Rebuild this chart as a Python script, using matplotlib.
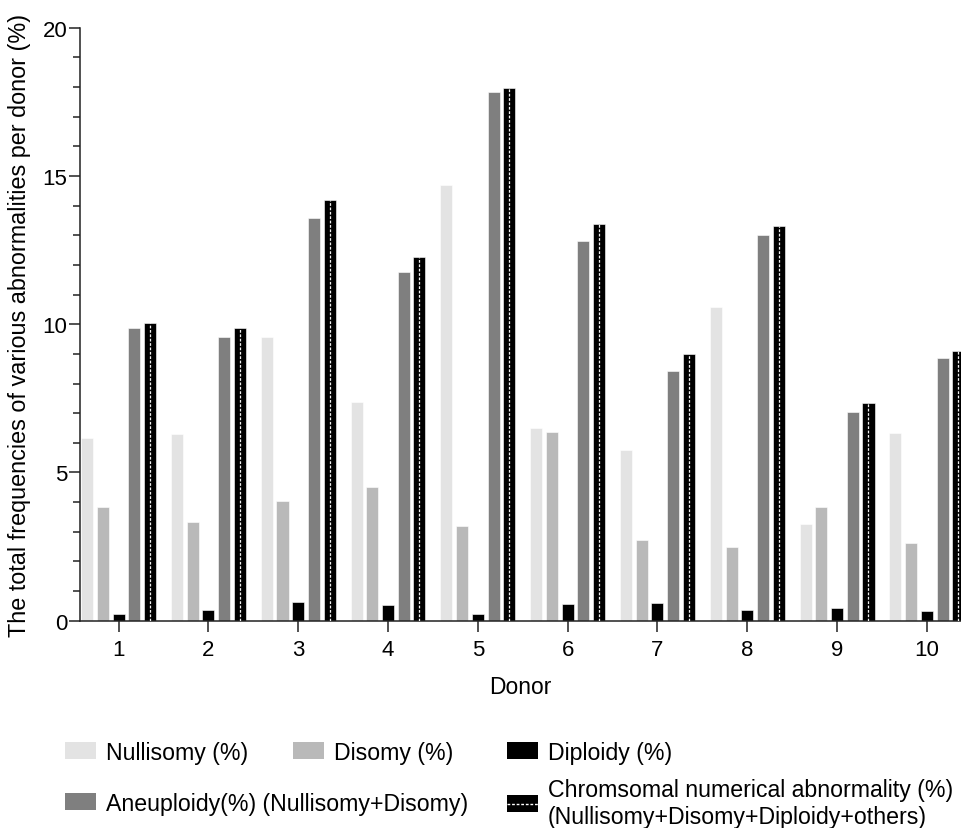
import numpy as np
import matplotlib.pyplot as plt
from matplotlib.patches import Patch
from matplotlib.lines import Line2D
from matplotlib.ticker import MultipleLocator

plt.rcParams['font.family'] = ['Liberation Sans', 'DejaVu Sans']

# values (%)
donors = [1, 2, 3, 4, 5, 6, 7, 8, 9, 10]
nullisomy = [6.15, 6.29, 9.56, 7.37, 14.71, 6.51, 5.77, 10.59, 3.26, 6.32]
disomy = [3.84, 3.32, 4.04, 4.50, 3.19, 6.37, 2.71, 2.49, 3.84, 2.61]
diploidy = [0.24, 0.35, 0.64, 0.52, 0.24, 0.58, 0.61, 0.36, 0.42, 0.32]
aneuploidy = [9.87, 9.56, 13.58, 11.75, 17.83, 12.81, 8.43, 13.00, 7.03, 8.85]
chromosomal = [10.04, 9.87, 14.18, 12.25, 17.96, 13.37, 8.98, 13.30, 7.36, 9.08]

labels = ["Nullisomy (%)", "Disomy (%)", "Diploidy (%)",
          "Aneuploidy(%) (Nullisomy+Disomy)",
          "Chromsomal numerical abnormality (%)\n(Nullisomy+Disomy+Diploidy+others)"]
colors = ['#e3e3e3', '#b9b9b9', '#000000', '#7f7f7f', '#000000']

W, H = 961, 829
fig = plt.figure(figsize=(W / 100, H / 100), dpi=100)
ax = fig.add_axes([80 / W, 1 - 621.8 / H, (W - 80) / W, 593.2 / H])

x = np.array(donors, dtype=float)
pitch = 0.175
bw = 0.134
series = [nullisomy, disomy, diploidy, aneuploidy, chromosomal]
for i, (vals, c) in enumerate(zip(series, colors)):
    ax.bar(x + (i - 2) * pitch, vals, width=bw, color=c,
           edgecolor='white', linewidth=0.4, zorder=2)

# dashed white centre line inside the total bars
ax.vlines(x + 2 * pitch, 0, chromosomal, colors='#f0f0f0',
          linestyles=(0, (2.2, 1.3)), linewidth=0.9, zorder=3)

ax.set_xlim(0.57, 10.38)
ax.set_ylim(0, 20)
ax.set_xticks(donors)
ax.yaxis.set_major_locator(MultipleLocator(5))
ax.yaxis.set_minor_locator(MultipleLocator(1))

for s in ['top', 'right']:
    ax.spines[s].set_visible(False)
for s in ['left', 'bottom']:
    ax.spines[s].set_linewidth(1.1)
    ax.spines[s].set_color('#222222')

ax.tick_params(axis='both', which='major', length=8, width=1.1,
               color='#222222', labelsize=16, pad=1)
ax.tick_params(axis='x', which='major', pad=5)
ax.tick_params(axis='y', which='minor', length=5, width=1.1, color='#222222')

ax.set_xlabel("Donor", fontsize=16.5, labelpad=11)
ax.set_ylabel("The total frequencies of various abnormalities per donor (%)",
              fontsize=16.8)
ax.yaxis.set_label_coords(-49 / 881, 0.5)

# legend entries placed individually, like the reference
handles = [Patch(facecolor=colors[0]), Patch(facecolor=colors[1]),
           Patch(facecolor=colors[2]), Patch(facecolor=colors[3]),
           (Patch(facecolor='black'),
            Line2D([], [], color='white', linestyle=(0, (2, 1.3)), linewidth=1))]
spots = [(65, 753.5), (293, 753.5), (507, 753.5), (65, 804.5), (507, 804)]
for h, lab, (px, py) in zip(handles, labels, spots):
    fig.legend([h], [lab], loc='center left', bbox_to_anchor=(px / W, 1 - py / H),
               frameon=False, borderpad=0, borderaxespad=0, fontsize=16.7,
               handlelength=1.35, handleheight=0.75, handletextpad=0.4,
               labelspacing=0.2)

fig.savefig('out.png', dpi=100)
